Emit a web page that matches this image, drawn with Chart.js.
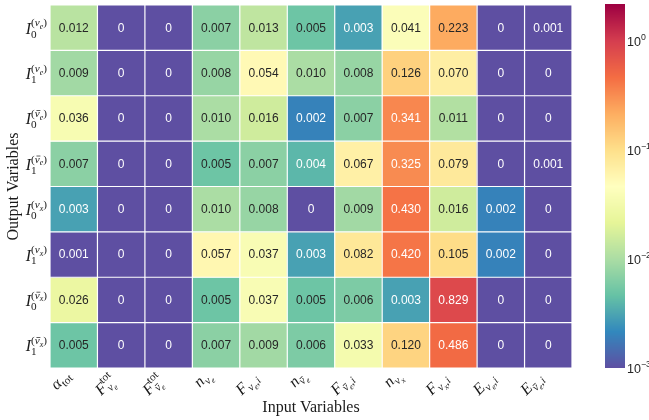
<!DOCTYPE html>
<html>
<head>
<meta charset="utf-8">
<script src="https://cdn.jsdelivr.net/npm/chart.js@4.4.0/dist/chart.umd.min.js"></script>
<style>
  html, body { margin: 0; padding: 0; background: #fff; }
  #wrap { width: 649px; height: 420px; }
</style>
</head>
<body>
<div id="wrap"><canvas id="heat" width="649" height="420"></canvas></div>
<script>
// tick labels (small TeX-like strings, rendered below)
const inputLabels = [
  'α_{\\mathrm{tot}}', 'F^{\\mathrm{tot}}_{ν_e}', 'F^{\\mathrm{tot}}_{\\bar{ν}_e}', 'n_{ν_e}',
  'F_{ν_e,i}', 'n_{\\bar{ν}_e}', 'F_{\\bar{ν}_e,i}', 'n_{ν_x}', 'F_{ν_x,i}',
  'E_{ν_e,i}', 'E_{\\bar{ν}_e,i}'
];
const outputLabels = [
  'I_0^{(ν_e)}', 'I_1^{(ν_e)}', 'I_0^{(\\bar{ν}_e)}', 'I_1^{(\\bar{ν}_e)}',
  'I_0^{(ν_x)}', 'I_1^{(ν_x)}', 'I_0^{(\\bar{ν}_x)}', 'I_1^{(\\bar{ν}_x)}'
];

// one array per output variable, values per input variable
const rowI0nue    = [0.012, 0, 0, 0.007, 0.013, 0.005, 0.003, 0.041, 0.223, 0, 0.001];
const rowI1nue    = [0.009, 0, 0, 0.008, 0.054, 0.010, 0.008, 0.126, 0.070, 0, 0];
const rowI0nuebar = [0.036, 0, 0, 0.010, 0.016, 0.002, 0.007, 0.341, 0.011, 0, 0];
const rowI1nuebar = [0.007, 0, 0, 0.005, 0.007, 0.004, 0.067, 0.325, 0.079, 0, 0.001];
const rowI0nux    = [0.003, 0, 0, 0.010, 0.008, 0, 0.009, 0.430, 0.016, 0.002, 0];
const rowI1nux    = [0.001, 0, 0, 0.057, 0.037, 0.003, 0.082, 0.420, 0.105, 0.002, 0];
const rowI0nuxbar = [0.026, 0, 0, 0.005, 0.037, 0.005, 0.006, 0.003, 0.829, 0, 0];
const rowI1nuxbar = [0.005, 0, 0, 0.007, 0.009, 0.006, 0.033, 0.120, 0.486, 0, 0];

// colour bar (log scale)
const colorMin = 0.001;
const colorMax = 2.15;
const colorbarTicks = [0.001, 0.01, 0.1, 1];
const colorbarLabels = ['10^{−3}', '10^{−2}', '10^{−1}', '10^{0}'];

const rows = [rowI0nue, rowI1nue, rowI0nuebar, rowI1nuebar, rowI0nux, rowI1nux, rowI0nuxbar, rowI1nuxbar];

// Spectral_r
const spectral = ['#5e4fa2', '#3288bd', '#66c2a5', '#abdda4', '#e6f598', '#ffffbf',
                  '#fee08b', '#fdae61', '#f46d43', '#d53e4f', '#9e0142'];
const hex = h => [1, 3, 5].map(k => parseInt(h.slice(k, k + 2), 16));
function cmap(t) {
  t = Math.min(1, Math.max(0, t));
  const p = t * (spectral.length - 1);
  const k = Math.min(Math.floor(p), spectral.length - 2);
  const f = p - k;
  const a = hex(spectral[k]), b = hex(spectral[k + 1]);
  return a.map((c, n) => Math.round(c + (b[n] - c) * f));
}
function colorFor(v) {
  const lo = Math.log10(colorMin), hi = Math.log10(colorMax);
  return cmap((Math.log10(Math.max(v, colorMin)) - lo) / (hi - lo));
}
const rgb = c => `rgb(${c[0]},${c[1]},${c[2]})`;
function luminance(c) {
  const l = c.map(x => { x /= 255; return x <= 0.03928 ? x / 12.92 : Math.pow((x + 0.055) / 1.055, 2.4); });
  return 0.2126 * l[0] + 0.7152 * l[1] + 0.0722 * l[2];
}

// --- tiny TeX-ish renderer for the axis labels ---
const SIZES = [1, 0.7, 0.5];
const isLetter = c => /[A-Za-z\u0370-\u03ff]/.test(c);
function parseTex(src) {
  let i = 0;
  function readArg(level, shift) {
    if (src[i] === '{') { i++; const r = group(level, shift); i++; return r; }
    const c = src[i++];
    return [{ t: c, level, shift, italic: isLetter(c) }];
  }
  function group(level, shift) {
    const out = [];
    let prev = null;
    while (i < src.length && src[i] !== '}') {
      const c = src[i];
      if (c === '^' || c === '_') {
        i++;
        const s = SIZES[level];
        const toks = readArg(Math.min(level + 1, 2), shift + (c === '^' ? -0.45 : 0.24) * s);
        if (toks.length) { toks[0].first = true; toks[0].back = prev !== null; }
        out.push(...toks);
        prev = prev === null ? c : null;
        continue;
      }
      prev = null;
      if (c === '\\') {
        let name = '';
        i++;
        while (i < src.length && /[a-z]/i.test(src[i])) name += src[i++];
        const toks = readArg(level, shift);
        toks.forEach(t => {
          if (name === 'bar') t.bar = true;
          if (name === 'mathrm') t.italic = false;
        });
        out.push(...toks);
        continue;
      }
      if (c === '{') { i++; out.push(...group(level, shift)); i++; continue; }
      out.push({ t: c, level, shift, italic: isLetter(c) });
      i++;
    }
    return out;
  }
  return group(0, 0);
}
// rough glyph extents (fraction of font size) for box alignment
function glyphAsc(c) {
  if (/[aceimnorsuvwxzανω]/.test(c)) return c === 'i' ? 0.66 : 0.46;
  if (c === 't') return 0.58;
  if (c === ',') return 0.1;
  return 0.68;
}
const glyphDesc = c => (c === '(' || c === ')') ? 0.22 : c === ',' ? 0.18 : 0;

function layoutTex(ctx, src, base, family, upright) {
  const toks = parseTex(src);
  let cx = 0, start = 0, maxX = 0, top = 0, bottom = 0;
  toks.forEach(t => {
    t.size = base * SIZES[t.level];
    t.font = `${t.italic && !upright ? 'italic ' : ''}${t.size}px "${family}"`;
    ctx.font = t.font;
    if (t.first && !t.back) start = cx;
    if (t.back) cx = start;
    t.x = cx;
    t.w = ctx.measureText(t.t).width;
    t.by = t.shift * base;
    cx += t.w;
    maxX = Math.max(maxX, cx);
    top = Math.min(top, t.by - glyphAsc(t.t) * t.size - (t.bar ? 0.25 * t.size : 0));
    bottom = Math.max(bottom, t.by + glyphDesc(t.t) * t.size);
  });
  return { toks, width: maxX, top, bottom };
}
function paintTex(ctx, lay, x0, y0) {
  ctx.textAlign = 'left';
  ctx.textBaseline = 'alphabetic';
  lay.toks.forEach(t => {
    ctx.font = t.font;
    const by = y0 + t.by;
    ctx.fillText(t.t, x0 + t.x, by);
    if (t.bar) {
      ctx.fillRect(x0 + t.x + 0.15 * t.size, by - 0.62 * t.size, t.w * 0.8, Math.max(0.7, t.size * 0.06));
    }
  });
}
function drawTex(ctx, src, x, y, base, family, align, upright) {
  const lay = layoutTex(ctx, src, base, family, upright);
  const x0 = align === 'right' ? x - lay.width : align === 'center' ? x - lay.width / 2 : x;
  paintTex(ctx, lay, x0, y);
}
// rotated label, its rotated box aligned right at px and top at py (like ha='right')
function drawTexRotated(ctx, src, px, py, angle, base, family) {
  const lay = layoutTex(ctx, src, base, family, false);
  const c = Math.cos(angle), s = Math.sin(angle);
  const corners = [[0, lay.top], [lay.width, lay.top], [0, lay.bottom], [lay.width, lay.bottom]]
    .map(([x, y]) => [x * c - y * s, x * s + y * c]);
  const maxX = Math.max(...corners.map(p => p[0]));
  const minY = Math.min(...corners.map(p => p[1]));
  ctx.save();
  ctx.translate(px - maxX, py - minY);
  ctx.rotate(angle);
  paintTex(ctx, lay, 0, 0);
  ctx.restore();
}

const heatDecor = {
  id: 'heatDecor',
  afterDatasetsDraw(chart) {
    const ctx = chart.ctx;
    const xs = chart.scales.x, ys = chart.scales.y, cb = chart.scales.cbar;
    ctx.save();

    // white cell edges
    ctx.strokeStyle = '#ffffff';
    ctx.lineWidth = 1.2;
    ctx.beginPath();
    for (let j = 0; j <= inputLabels.length; j++) {
      const x = xs.getPixelForValue(j - 0.5);
      ctx.moveTo(x, ys.top); ctx.lineTo(x, ys.bottom);
    }
    for (let r = 0; r <= rows.length; r++) {
      const y = ys.getPixelForValue(r);
      ctx.moveTo(xs.left, y); ctx.lineTo(xs.right, y);
    }
    ctx.stroke();

    // annotations
    ctx.font = '12px "Liberation Sans", Arial, sans-serif';
    ctx.textAlign = 'center';
    ctx.textBaseline = 'middle';
    rows.forEach((row, r) => {
      const meta = chart.getDatasetMeta(r);
      row.forEach((v, j) => {
        const el = meta.data[j];
        ctx.fillStyle = luminance(colorFor(v)) > 0.408 ? '#262626' : '#ffffff';
        ctx.fillText(v === 0 ? '0' : v.toFixed(3), el.x, (el.y + el.base) / 2 + 0.5);
      });
    });

    // tick labels
    ctx.fillStyle = '#1a1a1a';
    outputLabels.forEach((lab, r) => {
      drawTex(ctx, lab, 47, ys.getPixelForValue(r + 0.5) + 6, 16, 'Liberation Serif', 'right');
    });
    inputLabels.forEach((lab, j) => {
      drawTexRotated(ctx, lab, xs.getPixelForValue(j), 371, -Math.PI / 4, 16, 'Liberation Serif');
    });

    // axis titles
    ctx.fillStyle = '#1a1a1a';
    ctx.font = '16px "Liberation Serif", "Times New Roman", serif';
    ctx.textAlign = 'center';
    ctx.textBaseline = 'middle';
    ctx.fillText('Input Variables', (xs.left + xs.right) / 2, 408);
    ctx.save();
    ctx.translate(14, (ys.top + ys.bottom) / 2);
    ctx.rotate(-Math.PI / 2);
    ctx.fillText('Output Variables', 0, 0);
    ctx.restore();

    // colour bar
    const bx = 605, bw = 20;
    for (let y = Math.floor(cb.top) - 1; y < cb.bottom; y++) {
      ctx.fillStyle = rgb(colorFor(cb.getValueForPixel(y + 0.5)));
      ctx.fillRect(bx, y, bw, 1);
    }
    ctx.fillStyle = '#262626';
    colorbarTicks.forEach((v, k) => {
      drawTex(ctx, colorbarLabels[k], 627, cb.getPixelForValue(v) + 4.5, 12.5, 'Liberation Sans', 'left', true);
    });

    ctx.restore();
  }
};

const datasets = rows.map((row, r) => ({
  label: outputLabels[r],
  data: row.map(() => [r, r + 1]),
  backgroundColor: row.map(v => rgb(colorFor(v))),
  borderWidth: 0,
  borderSkipped: false,
  grouped: false,
  barPercentage: 1,
  categoryPercentage: 1
}));

new Chart(document.getElementById('heat'), {
  type: 'bar',
  data: { labels: inputLabels, datasets: datasets },
  options: {
    responsive: false,
    animation: false,
    events: [],
    layout: { padding: { left: 50, right: 77, top: 5, bottom: 52 } },
    plugins: { legend: { display: false }, tooltip: { enabled: false } },
    scales: {
      x: { type: 'category', offset: true, display: false, grid: { display: false } },
      y: { type: 'linear', min: 0, max: 8, reverse: true, display: false },
      cbar: { type: 'logarithmic', axis: 'y', position: 'right', min: colorMin, max: colorMax, display: false }
    }
  },
  plugins: [heatDecor]
});
</script>
</body>
</html>
